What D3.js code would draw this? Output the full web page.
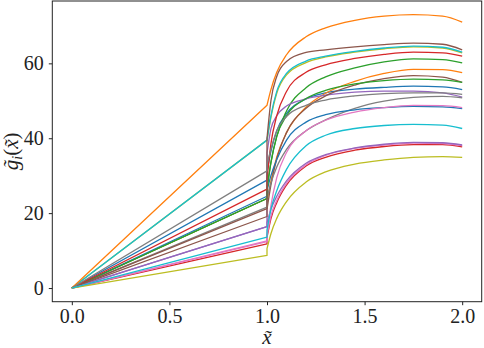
<!DOCTYPE html>
<html>
<head>
<meta charset="utf-8">
<script src="https://cdn.jsdelivr.net/npm/d3@7"></script>
<style>
  html, body { margin: 0; padding: 0; background: #fff; }
  svg { display: block; }
  .axis path { display: none; }
  .axis line { stroke: #222; stroke-width: 1; }
</style>
</head>
<body>
<svg id="chart" width="484" height="348"></svg>
<script>
// ticks
const xTicks = [0, 0.5, 1.0, 1.5, 2.0];
const yTicks = [0, 20, 40, 60];

// series colours, in drawing order
const seriesColors = [
  '#1f77b4', '#ff7f0e', '#2ca02c', '#d62728', '#9467bd',
  '#8c564b', '#e377c2', '#7f7f7f', '#bcbd22', '#17becf',
  '#1f77b4', '#ff7f0e', '#2ca02c', '#d62728', '#9467bd',
  '#8c564b', '#e377c2', '#7f7f7f', '#bcbd22', '#17becf',
];

// value reached at x = 1 by the straight part (starts at 0 for x = 0)
const valueAtOne = [
  28.8, 23.9, 23.9, 11.8, 16.4, 19.1, 12.4, 21.6, 39.5, 39.5,
  24.5, 48.8, 23.9, 26.4, 16.4, 21.2, 12.6, 31.3, 8.7, 13.6,
];

// value just after the jump at x = 1
const valueAfterJump = [
  31, 23, 27, 13.5, 36, 21, 14, 24, 39.5, 39.5,
  26, 48.8, 26, 29, 17.5, 40, 14.5, 33, 10.5, 15.5,
];

// x positions of the readings after the jump
const afterJumpX = [1.02, 1.05, 1.1, 1.2, 1.3, 1.45, 1.6, 1.75, 1.9, 2.0];

// readings after the jump, one row per series
const afterJumpY = [
  [36.5, 42, 46.6, 50.5, 52.1, 53.1, 53.6, 53.9, 53.7, 53.0],
  [28.5, 35, 41.5, 48.3, 52.0, 55.2, 57.3, 58.4, 58.3, 57.5],
  [33.5, 40.5, 47.3, 53.5, 56.4, 58.8, 60.4, 61.2, 61.0, 60.1],
  [18.5, 22.8, 27.5, 32.6, 34.9, 36.8, 37.8, 38.3, 38.3, 37.7],
  [42.5, 46, 48.6, 50.5, 51.5, 52.3, 52.6, 52.6, 52.1, 51.0],
  [27.5, 34.5, 41.5, 48.0, 51.3, 54.2, 55.9, 56.7, 56.3, 54.9],
  [19.2, 23.4, 28.0, 32.9, 35.4, 37.3, 38.2, 38.7, 38.6, 38.0],
  [28, 32.3, 37.0, 42.0, 44.9, 48, 49.9, 50.9, 51.2, 50.8],
  [45.5, 52, 56.9, 60.2, 61.7, 63.0, 63.9, 64.4, 64.1, 62.8],
  [46, 52.5, 57.3, 60.6, 61.9, 63.2, 64.1, 64.6, 64.3, 63.0],
  [30, 34.3, 39.5, 44.3, 46.3, 47.6, 48.2, 48.5, 48.4, 47.9],
  [53, 57.6, 62.3, 67.1, 69.5, 71.5, 72.6, 73.0, 72.6, 71.0],
  [33.5, 40.5, 46.0, 50.6, 52.8, 54.5, 55.4, 55.8, 55.6, 54.9],
  [38.5, 46, 52.5, 57.6, 59.6, 61.3, 62.4, 63.0, 62.8, 61.9],
  [21.0, 24.5, 28.6, 33.3, 35.6, 37.4, 38.4, 38.9, 38.8, 38.2],
  [50, 56.5, 60.5, 62.9, 63.6, 64.4, 65.0, 65.4, 65.1, 63.6],
  [22, 29.5, 36.2, 42, 44.8, 47, 48.2, 48.8, 48.7, 48.2],
  [37, 42, 45.8, 48.8, 50.2, 51.3, 51.9, 52.1, 52.1, 51.7],
  [14.5, 18.6, 23.1, 28.3, 31.0, 33.1, 34.2, 34.9, 35.1, 34.9],
  [21, 26, 31.7, 38, 40.8, 42.6, 43.4, 43.7, 43.5, 42.6],
];

const FONT = '"Liberation Serif", "Times New Roman", serif';
const M = { top: 1, right: 2.3, bottom: 46.3, left: 52.3 };
const W = 484, H = 348;

const svg = d3.select('#chart');

const x = d3.scaleLinear().domain([-0.1, 2.1]).range([M.left, W - M.right]);
const y = d3.scaleLinear().domain([-3.65, 76.65]).range([H - M.bottom, M.top]);

// curves: straight up to x = 1, vertical jump, smooth afterwards
const straight = d3.line().x(d => x(d[0])).y(d => y(d[1]));
const smooth = d3.line().x(d => x(d[0])).y(d => y(d[1])).curve(d3.curveMonotoneX);

const plot = svg.append('g');
seriesColors.forEach((c, i) => {
  const left = [[0, 0], [1, valueAtOne[i]], [1, valueAfterJump[i]]];
  const right = [[1, valueAfterJump[i]], ...afterJumpX.map((xv, k) => [xv, afterJumpY[i][k]])];
  const d = straight(left) + smooth(right).replace(/^M/, 'L');
  plot.append('path')
    .attr('d', d)
    .attr('fill', 'none')
    .attr('stroke', c)
    .attr('stroke-width', 1.3)
    .attr('stroke-linejoin', 'round');
});

// axes
svg.append('g')
  .attr('class', 'axis')
  .attr('transform', `translate(0,${H - M.bottom})`)
  .call(d3.axisBottom(x).tickValues(xTicks).tickFormat(d3.format('.1f')).tickSize(3.5).tickPadding(3.8))
  .attr('font-family', FONT).attr('font-size', 20)
  .selectAll('text').attr('fill', '#222');

svg.append('g')
  .attr('class', 'axis')
  .attr('transform', `translate(${M.left},0)`)
  .call(d3.axisLeft(y).tickValues(yTicks).tickFormat(d3.format('d')).tickSize(3.5).tickPadding(5))
  .attr('font-family', FONT).attr('font-size', 20)
  .selectAll('text').attr('fill', '#222');

// frame
svg.append('rect')
  .attr('x', M.left).attr('y', M.top)
  .attr('width', W - M.right - M.left)
  .attr('height', H - M.bottom - M.top)
  .attr('fill', 'none')
  .attr('stroke', '#222')
  .attr('stroke-width', 1);

// axis labels
svg.append('text')
  .attr('x', (M.left + W - M.right) / 2)
  .attr('y', 344)
  .attr('text-anchor', 'middle')
  .attr('font-family', FONT)
  .attr('font-style', 'italic')
  .attr('font-size', 21)
  .attr('fill', '#222')
  .text('x\u0303');

const yl = svg.append('text')
  .attr('transform', `translate(18,${(M.top + H - M.bottom) / 2}) rotate(-90)`)
  .attr('text-anchor', 'middle')
  .attr('font-family', FONT)
  .attr('font-size', 21)
  .attr('fill', '#222');
yl.append('tspan').attr('font-style', 'italic').text('g\u0303');
yl.append('tspan').attr('font-style', 'italic').attr('font-size', 14).attr('dy', 4).text('i');
yl.append('tspan').attr('dy', -4).text('(');
yl.append('tspan').attr('font-style', 'italic').text('x\u0303');
yl.append('tspan').text(')');
</script>
</body>
</html>
